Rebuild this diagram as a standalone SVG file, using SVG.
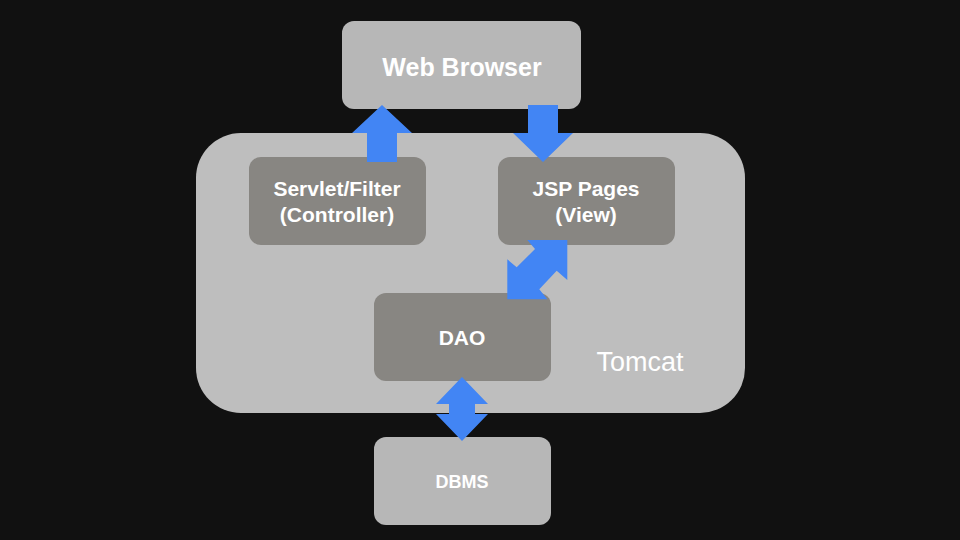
<svg xmlns="http://www.w3.org/2000/svg" width="960" height="540" viewBox="0 0 960 540">
<style>
.t{font-family:"Liberation Sans",Arial,sans-serif;fill:#ffffff;text-anchor:middle;font-weight:bold}
.light{fill:#b7b7b7}
.dark{fill:#888682}
.arr{fill:#4285f4}
</style>
<rect width="960" height="540" fill="#111111"/>
<g id="tomcat">
<rect x="196" y="133" width="549" height="280" rx="45" fill="#bebebe"/>
<text x="640" y="371" font-family="Liberation Sans,Arial,sans-serif" font-size="27" fill="#ffffff" text-anchor="middle">Tomcat</text>
</g>
<g id="browser">
<rect class="light" x="342" y="21" width="239" height="88" rx="12"/>
<text class="t" x="462" y="76" font-size="25">Web Browser</text>
</g>
<g id="servlet">
<rect class="dark" x="249" y="157" width="177" height="88" rx="12"/>
<text class="t" x="337" y="196" font-size="21">Servlet/Filter</text>
<text class="t" x="337" y="222" font-size="21">(Controller)</text>
</g>
<g id="jsp">
<rect class="dark" x="498" y="157" width="177" height="88" rx="12"/>
<text class="t" x="586" y="196" font-size="21">JSP Pages</text>
<text class="t" x="586" y="222" font-size="21">(View)</text>
</g>
<g id="dao">
<rect class="dark" x="374" y="293" width="177" height="88" rx="12"/>
<text class="t" x="462" y="345" font-size="21">DAO</text>
</g>
<g id="dbms">
<rect class="light" x="374" y="437" width="177" height="88" rx="12"/>
<text class="t" x="462" y="488" font-size="18">DBMS</text>
</g>
<g id="connectors">
<polygon class="arr" points="382,105 412,133 397,133 397,162 367,162 367,133 352,133"/>
<polygon class="arr" points="528,105 558,105 558,133 573,133 543,162 513,133 528,133"/>
<polygon class="arr" points="527.3,240 567.3,240 567.3,280 556.7,270.7 539.3,289.3 547.3,299.3 507.3,299.3 507.3,259.3 516.7,267.3 535,249"/>
<polygon class="arr" points="462,377 488,404 475,404 475,414 488,414 462,441 436,414 449,414 449,404 436,404"/>
</g>
</svg>
